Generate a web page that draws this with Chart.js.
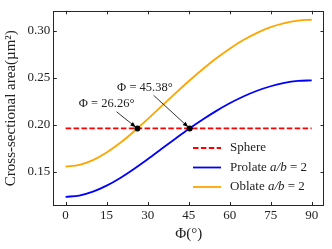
<!DOCTYPE html>
<html>
<head>
<meta charset="utf-8">
<script src="https://cdn.jsdelivr.net/npm/chart.js@4.4.0/dist/chart.umd.min.js"></script>
<style>
html, body { margin: 0; padding: 0; background: #fff; }
</style>
</head>
<body>
<canvas id="areaChart" width="332" height="249"></canvas>
<script>
// Values
const phiDeg = [0, 5, 10, 15, 20, 25, 30, 35, 40, 45, 50, 55, 60, 65, 70, 75, 80, 85, 90];
const prolateArea = [0.1237, 0.1251, 0.1292, 0.1356, 0.1438, 0.1533, 0.1636, 0.1744, 0.1851, 0.1956,
    0.2055, 0.2147, 0.2230, 0.2302, 0.2363, 0.2411, 0.2446, 0.2467, 0.2474];
const oblateArea = [0.1558, 0.1576, 0.1627, 0.1708, 0.1811, 0.1931, 0.2062, 0.2197, 0.2332, 0.2464,
    0.2589, 0.2705, 0.2810, 0.2901, 0.2977, 0.3038, 0.3081, 0.3108, 0.3117];
const spherePhi = [0, 90];
const sphereArea = [0.1963, 0.1963];
const crossPhi = [26.26, 45.38];
const crossArea = [0.1963, 0.1963];
const crossLabelPhi = [15, 29];
const crossLabelArea = [0.2225, 0.24];
const xTicks = [0, 15, 30, 45, 60, 75, 90];
const yTicks = [0.15, 0.20, 0.25, 0.30];

const serif = "'Liberation Serif', 'DejaVu Serif', serif";
const ink = '#222';

const toPoints = (xs, ys) => xs.map((x, i) => ({ x: x, y: ys[i] }));

// Legend entries: text pieces, italic flag
const legendItems = [
    { color: '#ff0000', dash: [5.5, 2.4], parts: [['Sphere', false]] },
    { color: '#0000ff', dash: [], parts: [['Prolate ', false], ['a/b', true], [' = 2', false]] },
    { color: '#ffa500', dash: [], parts: [['Oblate ', false], ['a/b', true], [' = 2', false]] }
];

// Frame, inward ticks, annotations and legend
const decorations = {
    id: 'decorations',
    afterDatasetsDraw(chart) {
        const { ctx, chartArea: a, scales: { x, y } } = chart;
        ctx.save();

        // box around the plot
        ctx.strokeStyle = '#262626';
        ctx.lineWidth = 1;
        ctx.setLineDash([]);
        ctx.strokeRect(Math.round(a.left) + 0.5, Math.round(a.top) + 0.5,
            Math.round(a.right - a.left) - 1, Math.round(a.bottom - a.top) - 1);

        // inward ticks on all sides
        const t = 3.5;
        ctx.beginPath();
        xTicks.forEach(v => {
            const px = Math.round(x.getPixelForValue(v)) + 0.5;
            ctx.moveTo(px, a.bottom); ctx.lineTo(px, a.bottom - t);
            ctx.moveTo(px, a.top); ctx.lineTo(px, a.top + t);
        });
        yTicks.forEach(v => {
            const py = Math.round(y.getPixelForValue(v)) + 0.5;
            ctx.moveTo(a.left, py); ctx.lineTo(a.left + t, py);
            ctx.moveTo(a.right, py); ctx.lineTo(a.right - t, py);
        });
        ctx.stroke();

        // annotations with arrows
        ctx.font = '12.5px ' + serif;
        ctx.fillStyle = ink;
        ctx.textAlign = 'center';
        ctx.textBaseline = 'middle';
        crossPhi.forEach((phi, i) => {
            const label = 'Φ = ' + phi.toFixed(2) + '°';
            const tx = x.getPixelForValue(crossLabelPhi[i]);
            const ty = y.getPixelForValue(crossLabelArea[i]);
            const ex = x.getPixelForValue(phi);
            const ey = y.getPixelForValue(crossArea[i]);
            ctx.fillText(label, tx, ty);

            const w = ctx.measureText(label).width + 4;
            const h = 14;
            const dx = ex - tx, dy = ey - ty;
            const len = Math.hypot(dx, dy);
            const ux = dx / len, uy = dy / len;
            const s = Math.min((w / 2) / Math.abs(dx), (h / 2) / Math.abs(dy));
            const sx = tx + dx * s + ux * 1.5, sy = ty + dy * s + uy * 1.5;
            const hx = ex - ux * 2, hy = ey - uy * 2;

            ctx.strokeStyle = '#000';
            ctx.lineWidth = 0.8;
            ctx.beginPath();
            ctx.moveTo(sx, sy);
            ctx.lineTo(hx - ux * 4, hy - uy * 4);
            ctx.stroke();
            ctx.fillStyle = '#000';
            ctx.beginPath();
            ctx.moveTo(hx, hy);
            ctx.lineTo(hx - ux * 5.5 - uy * 2.2, hy - uy * 5.5 + ux * 2.2);
            ctx.lineTo(hx - ux * 5.5 + uy * 2.2, hy - uy * 5.5 - ux * 2.2);
            ctx.closePath();
            ctx.fill();
            ctx.fillStyle = ink;
        });

        // legend, lower right
        ctx.textAlign = 'left';
        legendItems.forEach((item, i) => {
            const rowY = a.bottom - 57.5 + i * 19.5;
            ctx.strokeStyle = item.color;
            ctx.lineWidth = 1.8;
            ctx.setLineDash(item.dash);
            ctx.beginPath();
            ctx.moveTo(a.right - 131, rowY);
            ctx.lineTo(a.right - 103, rowY);
            ctx.stroke();
            ctx.setLineDash([]);
            let cx = a.right - 94;
            ctx.fillStyle = ink;
            item.parts.forEach(([txt, italic]) => {
                ctx.font = (italic ? 'italic ' : '') + '13px ' + serif;
                ctx.fillText(txt, cx, rowY);
                cx += ctx.measureText(txt).width;
            });
        });

        ctx.restore();
    }
};

const ctx = document.getElementById('areaChart').getContext('2d');
const chart = new Chart(ctx, {
    type: 'line',
    data: {
        datasets: [
            {
                label: 'Sphere',
                data: toPoints(spherePhi, sphereArea),
                borderColor: '#ff0000',
                borderDash: [5.5, 2.4],
                borderWidth: 1.8,
                pointRadius: 0,
                order: 3
            },
            {
                label: 'Prolate a/b = 2',
                data: toPoints(phiDeg, prolateArea),
                borderColor: '#0000ff',
                borderWidth: 1.8,
                pointRadius: 0,
                cubicInterpolationMode: 'monotone',
                order: 2
            },
            {
                label: 'Oblate a/b = 2',
                data: toPoints(phiDeg, oblateArea),
                borderColor: '#ffa500',
                borderWidth: 1.8,
                pointRadius: 0,
                cubicInterpolationMode: 'monotone',
                order: 1
            },
            {
                label: 'crossings',
                data: toPoints(crossPhi, crossArea),
                showLine: false,
                pointRadius: 3,
                pointBackgroundColor: '#000',
                pointBorderWidth: 0,
                order: 0
            }
        ]
    },
    options: {
        responsive: false,
        animation: false,
        layout: { padding: { top: 7, right: 8, left: 0, bottom: 0 } },
        plugins: {
            legend: { display: false },
            tooltip: { enabled: false }
        },
        scales: {
            x: {
                type: 'linear',
                min: -4.5,
                max: 94.5,
                grid: { display: false, drawTicks: false },
                border: { display: false },
                ticks: {
                    stepSize: 15,
                    includeBounds: false,
                    maxRotation: 0,
                    padding: 2,
                    color: ink,
                    font: { family: serif, size: 13 }
                },
                title: {
                    display: true,
                    text: 'Φ(°)',
                    color: ink,
                    font: { family: serif, size: 15 },
                    padding: { top: 0, bottom: 6 }
                },
                afterFit: scale => { scale.height = 43.5; }
            },
            y: {
                type: 'linear',
                min: 0.1145,
                max: 0.3212,
                grid: { display: false, drawTicks: false },
                border: { display: false },
                ticks: {
                    stepSize: 0.05,
                    includeBounds: false,
                    padding: 3,
                    color: ink,
                    font: { family: serif, size: 13 },
                    callback: v => v.toFixed(2)
                },
                title: {
                    display: true,
                    text: 'Cross-sectional area(µm²)',
                    color: ink,
                    font: { family: serif, size: 15 },
                    padding: { top: 2.5, bottom: 0 }
                },
                afterFit: scale => { scale.width = 53.3; }
            }
        }
    },
    plugins: [decorations]
});
</script>
</body>
</html>
